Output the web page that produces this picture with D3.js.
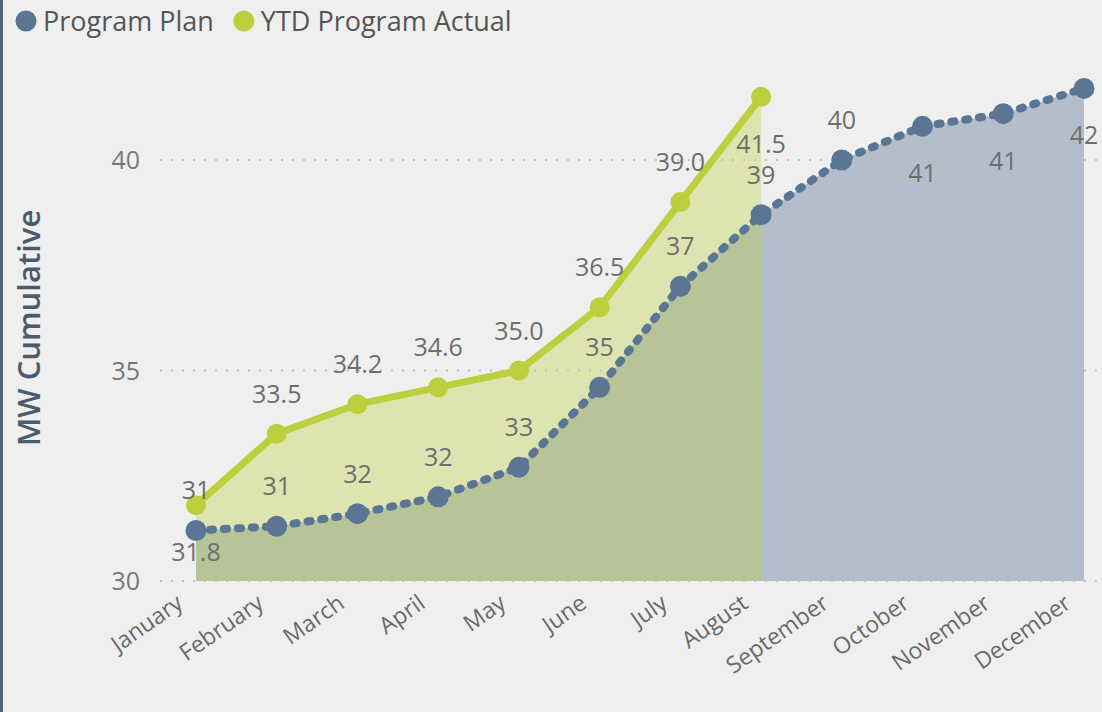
<!DOCTYPE html>
<html>
<head>
<meta charset="utf-8">
<script src="https://cdn.jsdelivr.net/npm/d3@7/dist/d3.min.js"></script>
<style>
  html, body { margin: 0; padding: 0; background: #efefef; }
  svg { display: block; }
  text { font-family: "Open Sans", "Noto Sans", sans-serif; }
</style>
</head>
<body>
<svg id="chart" width="1102" height="712"></svg>
<script>
// ---- data ----
const months = ["January","February","March","April","May","June","July","August","September","October","November","December"];
const planValues = [31.2, 31.3, 31.6, 32.0, 32.7, 34.6, 37.0, 38.7, 40.0, 40.8, 41.1, 41.7];
const planLabels = ["31","31","32","32","33","35","37","39","40","41","41","42"];
const actualValues = [31.8, 33.5, 34.2, 34.6, 35.0, 36.5, 39.0, 41.5];
const actualLabels = ["31.8","33.5","34.2","34.6","35.0","36.5","39.0","41.5"];
const yTicks = [30, 35, 40];
const seriesNames = ["Program Plan", "YTD Program Actual"];
const axisTitle = "MW Cumulative";
// label placement (above / below the point)
const planLabelSide = ["above","above","above","above","above","above","above","above","above","below","below","below"];
const actualLabelSide = ["below","above","above","above","above","above","above","below"];

// ---- styles ----
const planColor = "#5a7694";
const actualColor = "#bccf3c";
const labelColor = "#6e6e6e";

const svg = d3.select("#chart");
svg.append("rect").attr("width", 1102).attr("height", 712).attr("fill", "#efefef");
svg.append("rect").attr("x", 0).attr("y", 0).attr("width", 3).attr("height", 712).attr("fill", "#556577");

const x = d3.scalePoint().domain(months).range([196, 1084]);
const y = d3.scaleLinear().domain([30, 40]).range([581, 160]);

const planData = months.map((m, i) => ({ m, v: planValues[i], label: planLabels[i], side: planLabelSide[i] }));
const actualData = actualValues.map((v, i) => ({ m: months[i], v, label: actualLabels[i], side: actualLabelSide[i] }));

const area = d3.area().x(d => x(d.m)).y0(y(30)).y1(d => y(d.v));
const line = d3.line().x(d => x(d.m)).y(d => y(d.v));

// areas
svg.append("path").datum(planData).attr("d", area).attr("fill", planColor).attr("fill-opacity", 0.4);
svg.append("path").datum(actualData).attr("d", area).attr("fill", actualColor).attr("fill-opacity", 0.36);

// gridlines
svg.append("g").selectAll("line").data(yTicks).join("line")
  .attr("x1", 160).attr("x2", 1102)
  .attr("y1", d => y(d)).attr("y2", d => y(d))
  .attr("stroke", "#c2c2c2").attr("stroke-width", 2)
  .attr("stroke-dasharray", "2,9");

// y tick labels
svg.append("g").selectAll("text").data(yTicks).join("text")
  .attr("x", 140).attr("y", d => y(d)).attr("dy", "0.36em")
  .attr("text-anchor", "end").attr("font-size", 25).attr("fill", "#777")
  .text(d => d);

// axis title
svg.append("text")
  .attr("transform", "translate(40,328) rotate(-90)")
  .attr("text-anchor", "middle").attr("font-size", 31).attr("font-weight", 600)
  .attr("fill", "#4b5b6c").text(axisTitle);

// x labels
svg.append("g").selectAll("text").data(months).join("text")
  .attr("transform", d => `translate(${x(d) - 21},${593}) rotate(-35)`)
  .attr("text-anchor", "end").attr("dy", "0.72em")
  .attr("font-size", 23).attr("fill", "#6a6a6a")
  .text(d => d);

// actual line
svg.append("path").datum(actualData).attr("d", line)
  .attr("fill", "none").attr("stroke", actualColor).attr("stroke-width", 7)
  .attr("stroke-linejoin", "round");
svg.append("g").selectAll("circle").data(actualData).join("circle")
  .attr("cx", d => x(d.m)).attr("cy", d => y(d.v)).attr("r", 10).attr("fill", actualColor);

// plan line
svg.append("path").datum(planData).attr("d", line)
  .attr("fill", "none").attr("stroke", planColor).attr("stroke-width", 8)
  .attr("stroke-linecap", "round").attr("stroke-dasharray", "3,11");
svg.append("g").selectAll("circle").data(planData).join("circle")
  .attr("cx", d => x(d.m)).attr("cy", d => y(d.v)).attr("r", 10.5).attr("fill", planColor);

// data labels
function drawLabels(data) {
  svg.append("g").selectAll("text").data(data).join("text")
    .attr("x", d => x(d.m))
    .attr("y", d => y(d.v) + (d.side === "above" ? -40 : 47))
    .attr("dy", "0.36em")
    .attr("text-anchor", "middle").attr("font-size", 25).attr("fill", labelColor)
    .text(d => d.label);
}
drawLabels(planData);
drawLabels(actualData);

// legend
const legend = svg.append("g");
const legendColors = [planColor, actualColor];
let lx = 26;
seriesNames.forEach((name, i) => {
  legend.append("circle").attr("cx", lx).attr("cy", 21).attr("r", 10.5).attr("fill", legendColors[i]);
  const t = legend.append("text").attr("x", lx + 17).attr("y", 21).attr("dy", "0.36em")
    .attr("font-size", 27).attr("fill", "#555").text(name);
  lx += 17 + t.node().getComputedTextLength() + 30;
});
</script>
</body>
</html>
